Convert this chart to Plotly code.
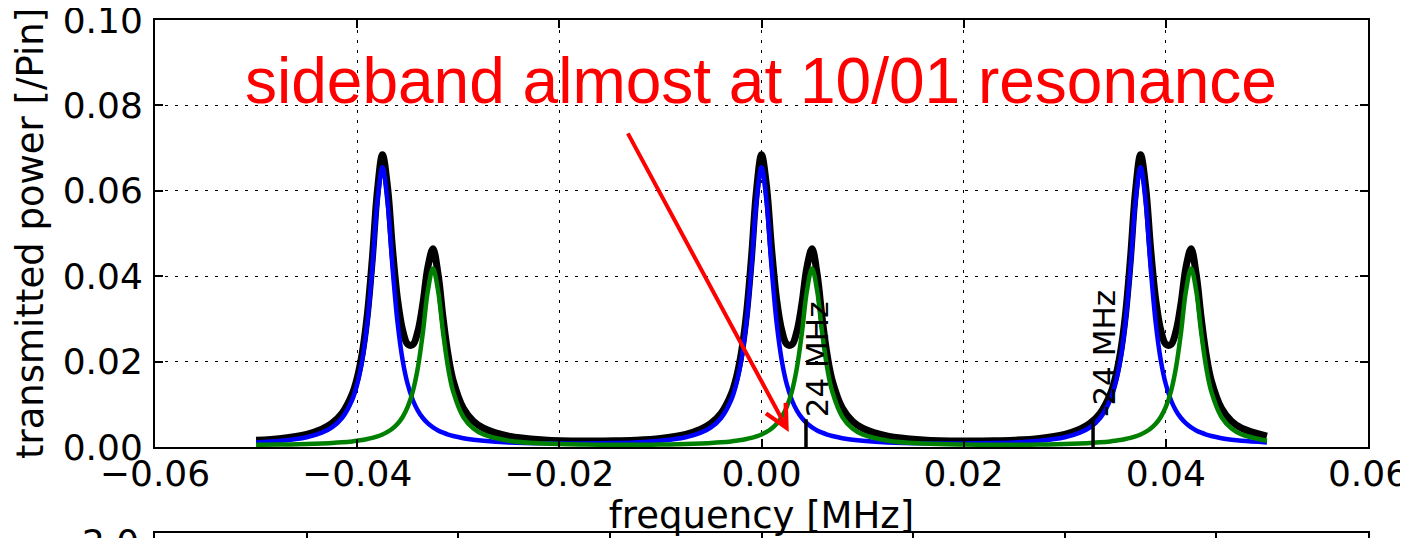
import plotly.graph_objects as go

# ---------------- data ----------------
freq = [
    -0.05, -0.0475, -0.045, -0.0435, -0.0425, -0.0415, -0.0405, -0.04, -0.0395, -0.039,
    -0.0385, -0.038, -0.0375, -0.037, -0.0365, -0.036, -0.0355, -0.035, -0.0345, -0.034,
    -0.0335, -0.033, -0.0325, -0.032, -0.0315, -0.031, -0.0305, -0.0295, -0.0285, -0.0275,
    -0.025, -0.0215, -0.0175, -0.0145,
    -0.0125, -0.01, -0.0075, -0.006, -0.005, -0.004, -0.003, -0.0025, -0.002, -0.0015,
    -0.001, -0.0005, 0.0, 0.0005, 0.001, 0.0015, 0.002, 0.0025, 0.003, 0.0035,
    0.004, 0.0045, 0.005, 0.0055, 0.006, 0.0065, 0.007, 0.008, 0.009, 0.01,
    0.0125, 0.016, 0.02, 0.023,
    0.025, 0.0275, 0.03, 0.0315, 0.0325, 0.0335, 0.0345, 0.035, 0.0355, 0.036,
    0.0365, 0.037, 0.0375, 0.038, 0.0385, 0.039, 0.0395, 0.04, 0.0405, 0.041,
    0.0415, 0.042, 0.0425, 0.043, 0.0435, 0.044, 0.0445, 0.0455, 0.0465, 0.0475,
    0.05,
]

blue_power = [
    0.00107, 0.00145, 0.00229, 0.00335, 0.00460, 0.00679, 0.01101, 0.01469, 0.02031, 0.02902,
    0.04198, 0.05744, 0.06550, 0.05744, 0.04198, 0.02902, 0.02031, 0.01469, 0.01101, 0.00853,
    0.00679, 0.00553, 0.00460, 0.00389, 0.00335, 0.00292, 0.00257, 0.00206, 0.00170, 0.00145,
    0.00107, 0.00085, 0.00082, 0.00092,
    0.00107, 0.00145, 0.00229, 0.00335, 0.00460, 0.00679, 0.01101, 0.01469, 0.02031, 0.02902,
    0.04198, 0.05744, 0.06550, 0.05744, 0.04198, 0.02902, 0.02031, 0.01469, 0.01101, 0.00853,
    0.00679, 0.00553, 0.00460, 0.00389, 0.00335, 0.00292, 0.00257, 0.00206, 0.00170, 0.00145,
    0.00107, 0.00085, 0.00082, 0.00092,
    0.00107, 0.00145, 0.00229, 0.00335, 0.00460, 0.00679, 0.01101, 0.01469, 0.02031, 0.02902,
    0.04198, 0.05744, 0.06550, 0.05744, 0.04198, 0.02902, 0.02031, 0.01469, 0.01101, 0.00853,
    0.00679, 0.00553, 0.00460, 0.00389, 0.00335, 0.00292, 0.00257, 0.00206, 0.00170, 0.00145,
    0.00107,
]

green_power = [
    0.00052, 0.00057, 0.00069, 0.00081, 0.00093, 0.00109, 0.00131, 0.00146, 0.00164, 0.00186,
    0.00214, 0.00249, 0.00294, 0.00353, 0.00433, 0.00544, 0.00703, 0.00938, 0.01296, 0.01852,
    0.02679, 0.03666, 0.04180, 0.03666, 0.02679, 0.01852, 0.01296, 0.00703, 0.00433, 0.00294,
    0.00146, 0.00081, 0.00057, 0.00052,
    0.00052, 0.00057, 0.00069, 0.00081, 0.00093, 0.00109, 0.00131, 0.00146, 0.00164, 0.00186,
    0.00214, 0.00249, 0.00294, 0.00353, 0.00433, 0.00544, 0.00703, 0.00938, 0.01296, 0.01852,
    0.02679, 0.03666, 0.04180, 0.03666, 0.02679, 0.01852, 0.01296, 0.00703, 0.00433, 0.00294,
    0.00146, 0.00081, 0.00057, 0.00052,
    0.00052, 0.00057, 0.00069, 0.00081, 0.00093, 0.00109, 0.00131, 0.00146, 0.00164, 0.00186,
    0.00214, 0.00249, 0.00294, 0.00353, 0.00433, 0.00544, 0.00703, 0.00938, 0.01296, 0.01852,
    0.02679, 0.03666, 0.04180, 0.03666, 0.02679, 0.01852, 0.01296, 0.00703, 0.00433, 0.00294,
    0.00146,
]

total_power = [
    0.00159, 0.00202, 0.00298, 0.00416, 0.00553, 0.00788, 0.01232, 0.01615, 0.02195, 0.03088,
    0.04412, 0.05993, 0.06844, 0.06097, 0.04631, 0.03446, 0.02734, 0.02407, 0.02397, 0.02705,
    0.03358, 0.04219, 0.04640, 0.04055, 0.03014, 0.02144, 0.01553, 0.00909, 0.00603, 0.00439,
    0.00253, 0.00166, 0.00139, 0.00144,
    0.00159, 0.00202, 0.00298, 0.00416, 0.00553, 0.00788, 0.01232, 0.01615, 0.02195, 0.03088,
    0.04412, 0.05993, 0.06844, 0.06097, 0.04631, 0.03446, 0.02734, 0.02407, 0.02397, 0.02705,
    0.03358, 0.04219, 0.04640, 0.04055, 0.03014, 0.02144, 0.01553, 0.00909, 0.00603, 0.00439,
    0.00253, 0.00166, 0.00139, 0.00144,
    0.00159, 0.00202, 0.00298, 0.00416, 0.00553, 0.00788, 0.01232, 0.01615, 0.02195, 0.03088,
    0.04412, 0.05993, 0.06844, 0.06097, 0.04631, 0.03446, 0.02734, 0.02407, 0.02397, 0.02705,
    0.03358, 0.04219, 0.04640, 0.04055, 0.03014, 0.02144, 0.01553, 0.00909, 0.00603, 0.00439,
    0.00253,
]

marker_freqs = [0.0044, 0.0328]
marker_top = 0.0065
marker_labels = ["24 MHz", "-24 MHz"]

x_ticks = [-0.06, -0.04, -0.02, 0.0, 0.02, 0.04, 0.06]
y_ticks = [0.0, 0.02, 0.04, 0.06, 0.08, 0.10]
lower_panel_label = "2.0"

note_text = "sideband almost at 10/01 resonance"
arrow_tail = [-0.0133, 0.0738]
arrow_head = [0.0027, 0.0035]

# ---------------- figure ----------------
# page has an 8px body margin, so the figure is 1400x530 drawn at (8,8)
FIG_W, FIG_H = 1400, 530
M_L, M_R, M_T, M_B = 147, 40, 12, 0
PAPER_H = FIG_H - M_T - M_B


def paper_y(page_y):
    return (FIG_H - (page_y - 8)) / PAPER_H


def paper_x(page_x):
    return (page_x - 8 - M_L) / (FIG_W - M_L - M_R)


TICK_FONT = dict(family="DejaVu Sans", size=36, color="black")
TITLE_FONT = dict(family="DejaVu Sans", size=37, color="black")
fig = go.Figure()

fig.add_trace(go.Scatter(x=freq, y=total_power, mode="lines",
                         line=dict(color="black", width=7, shape="spline"),
                         hoverinfo="skip", showlegend=False))
fig.add_trace(go.Scatter(x=freq, y=blue_power, mode="lines",
                         line=dict(color="#0000ff", width=4.5, shape="spline"),
                         hoverinfo="skip", showlegend=False))
fig.add_trace(go.Scatter(x=freq, y=green_power, mode="lines",
                         line=dict(color="#008000", width=4.5, shape="spline"),
                         hoverinfo="skip", showlegend=False))
for xv in marker_freqs:
    fig.add_trace(go.Scatter(x=[xv, xv], y=[0, marker_top], mode="lines",
                             line=dict(color="black", width=3.5),
                             hoverinfo="skip", showlegend=False))

# empty trace for the lower (cut-off) panel
fig.add_trace(go.Scatter(x=[], y=[], xaxis="x2", yaxis="y2", showlegend=False))

main_bottom = paper_y(447)
lower_top = paper_y(533)

fig.update_layout(
    width=FIG_W, height=FIG_H,
    margin=dict(l=M_L, r=M_R, t=M_T, b=M_B, autoexpand=False),
    paper_bgcolor="white", plot_bgcolor="white",
    showlegend=False,
    xaxis=dict(
        domain=[0, 1], anchor="y", range=[-0.06, 0.06], automargin=False,
        tickmode="array", tickvals=x_ticks, tickformat=".2f",
        ticks="inside", ticklen=8, tickwidth=1.5, tickcolor="black",
        showline=True, linecolor="black", linewidth=2, mirror="ticks",
        showgrid=True, gridcolor="black", gridwidth=1, griddash="3px,7px",
        zeroline=False, tickfont=TICK_FONT, ticklabelstandoff=-6,
        ticklabeloverflow="allow",
        title=dict(text="frequency [MHz]", font=TITLE_FONT, standoff=7),
    ),
    yaxis=dict(
        domain=[main_bottom, 1], anchor="x", range=[0, 0.1], automargin=False,
        tickmode="array", tickvals=y_ticks, tickformat=".2f",
        ticks="inside", ticklen=8, tickwidth=1.5, tickcolor="black",
        showline=True, linecolor="black", linewidth=2, mirror="ticks",
        showgrid=True, gridcolor="black", gridwidth=1, griddash="3px,7px",
        zeroline=False, tickfont=TICK_FONT, ticklabelstandoff=3,
        ticklabeloverflow="allow",
        title=dict(text="transmitted power [/Pin]", font=TITLE_FONT, standoff=8),
    ),
    xaxis2=dict(
        domain=[0, 1], anchor="y2", range=[0, 8], tickmode="linear", tick0=0, dtick=1,
        side="top", ticks="inside", ticklen=10, tickwidth=1.5, tickcolor="black",
        showline=True, linecolor="black", linewidth=2, mirror=False, automargin=False,
        showgrid=False, zeroline=False, showticklabels=False,
    ),
    yaxis2=dict(
        domain=[0, lower_top], anchor="x2", range=[0, 1], automargin=False,
        showline=True, linecolor="black", linewidth=2, mirror=True, ticks="",
        showgrid=False, zeroline=False, showticklabels=False,
    ),
)

annotations = []
for xv, lab in zip(marker_freqs, marker_labels):
    annotations.append(dict(
        x=xv, y=marker_top, xref="x", yref="y", text=lab, showarrow=False,
        textangle=-90, xanchor="left", yanchor="bottom", xshift=-9,
        font=dict(family="DejaVu Sans", size=31, color="black"),
    ))

# the cut-off tick label of the panel below
annotations.append(dict(
    x=paper_x(141), y=paper_y(542), xref="paper", yref="paper",
    text=lower_panel_label, showarrow=False, xanchor="right", yanchor="middle",
    font=TICK_FONT,
))

annotations.append(dict(
    x=paper_x(761), y=paper_y(81), xref="paper", yref="paper",
    text=note_text, showarrow=False, xanchor="center", yanchor="middle",
    font=dict(family="Liberation Sans, Arial", size=64, color="#ff0000"),
))

annotations.append(dict(
    x=arrow_head[0], y=arrow_head[1], xref="x", yref="y",
    ax=arrow_tail[0], ay=arrow_tail[1], axref="x", ayref="y",
    text="", showarrow=True, arrowhead=5, arrowsize=1.1, arrowwidth=4,
    arrowcolor="#ff0000",
))

fig.update_layout(annotations=annotations)

fig.write_html("out.html")
